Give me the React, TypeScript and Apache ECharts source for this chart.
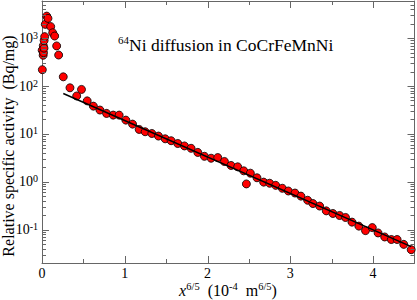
import React, { useEffect, useRef } from 'react';
import * as echarts from 'echarts';

// x^(6/5) in units of 1e-4 m^(6/5)
const depthX = [
  0.004, 0.002, 0.014, 0.018, 0.016, 0.024, 0.026, 0.032, 0.040, 0.057, 0.072,
  0.105, 0.129, 0.153, 0.177, 0.201, 0.257, 0.338, 0.419, 0.477, 0.546, 0.621,
  0.700, 0.780, 0.860, 0.932, 1.013, 1.094, 1.174, 1.246, 1.327, 1.407, 1.488,
  1.560, 1.640, 1.721, 1.801, 1.882, 1.962, 2.043, 2.123, 2.204, 2.284, 2.364,
  2.437, 2.469, 2.517, 2.597, 2.678, 2.750, 2.823, 2.903, 2.976, 3.056, 3.128,
  3.209, 3.273, 3.354, 3.434, 3.514, 3.595, 3.667, 3.745, 3.828, 3.908, 3.990,
  4.060, 4.140, 4.220, 4.290, 4.370, 4.460,
];
// relative specific activity, Bq/mg
const activity = [
  220, 560, 440, 500, 700, 620, 900, 1080, 1950, 2900, 2600,
  1750, 1300, 1110, 690, 445, 156, 92, 62, 85, 49, 38,
  31.5, 26.8, 24.7, 24.7, 19.4, 16.0, 12.4, 11.1, 10.2, 9.0, 7.9,
  7.2, 6.3, 5.6, 5.0, 4.1, 3.4, 3.1, 3.2, 2.65, 2.19, 2.05,
  1.69, 0.90, 1.51, 1.21, 0.98, 0.93, 0.84, 0.73, 0.64, 0.58, 0.50,
  0.41, 0.35, 0.31, 0.246, 0.217, 0.197, 0.179, 0.143, 0.118, 0.095, 0.110,
  0.085, 0.070, 0.062, 0.062, 0.049, 0.038,
];
// fitted line
const fitX = [0.257, 4.46];
const fitY = [70, 0.044];

const xTicks = [0, 1, 2, 3, 4];
const xMinorTicks = [0.5, 1.5, 2.5, 3.5];
const decades = [-2, -1, 0, 1, 2, 3];

const X_MIN = 0;
const X_MAX = 4.5;
const Y_MIN = 0.02;
const Y_MAX = 6000;

const FONT = "'Liberation Serif', 'Times New Roman', serif";
const AXIS_COLOR = '#666';

export default function App() {
  const ref = useRef<HTMLDivElement>(null);
  useEffect(() => {
    const chart = echarts.init(ref.current!, null, { renderer: 'svg' });
    const supRich = {
      sup: { fontSize: 10, lineHeight: 10, verticalAlign: 'top', fontFamily: FONT, color: '#000' },
    };
    const supFill = (size: number, lh: number) => ({
      sup: { fontSize: size, lineHeight: lh, verticalAlign: 'top', fontFamily: FONT, fill: '#000' },
      i: { fontSize: 16, lineHeight: 18, fontFamily: FONT, fontStyle: 'italic', fill: '#000' },
    });
    const MAJ = 7;
    const MIN = 4;
    const option: any = {
      animation: false,
      grid: { left: 42, right: 2.5, top: 1, bottom: 37 },
      xAxis: [
        {
          type: 'value', min: X_MIN, max: X_MAX, interval: 1,
          axisLine: { show: true, lineStyle: { color: AXIS_COLOR, width: 1 } },
          axisTick: { show: false },
          splitLine: { show: false },
          axisLabel: {
            margin: 3, fontSize: 14, fontFamily: FONT, color: '#000', showMaxLabel: false,
            formatter: (v: number) => (xTicks.includes(v) ? String(v) : ''),
          },
        },
        {
          type: 'value', position: 'top', min: X_MIN, max: X_MAX, interval: 1,
          axisLine: { show: true, onZero: false, lineStyle: { color: AXIS_COLOR, width: 1 } },
          axisTick: { show: false }, axisLabel: { show: false }, splitLine: { show: false },
        },
      ],
      yAxis: [
        {
          type: 'log', logBase: 10, min: Y_MIN, max: Y_MAX,
          axisLine: { show: true, lineStyle: { color: AXIS_COLOR, width: 1 } },
          axisTick: { show: false },
          splitLine: { show: false },
          minorTick: { show: false },
          axisLabel: {
            margin: 4, fontSize: 14, lineHeight: 16, fontFamily: FONT, color: '#000',
            showMinLabel: false, showMaxLabel: false,
            formatter: (v: number) => {
              const l = Math.log10(v);
              const e = Math.round(l);
              if (Math.abs(l - e) > 1e-6) return '';
              return '10{sup|' + e + '}';
            },
            rich: supRich,
          },
        },
        {
          type: 'log', logBase: 10, min: Y_MIN, max: Y_MAX, position: 'right',
          axisLine: { show: true, onZero: false, lineStyle: { color: AXIS_COLOR, width: 1 } },
          axisTick: { show: false }, axisLabel: { show: false }, splitLine: { show: false },
        },
      ],
      graphic: [
        {
          type: 'text', x: 8, y: 146, rotation: Math.PI / 2,
          style: {
            text: 'Relative specific activity  (Bq/mg)', fontSize: 16, fontFamily: FONT,
            fill: '#000', align: 'center', verticalAlign: 'middle',
          },
        },
        {
          type: 'text', x: 228, y: 290,
          style: {
            text: '{i|x}{sup|6/5}  (10{sup|-4}  m{sup|6/5})', fontSize: 16, lineHeight: 18,
            fontFamily: FONT, fill: '#000', align: 'center', verticalAlign: 'middle',
            rich: supFill(10.5, 10),
          },
        },
        {
          type: 'text', x: 118, y: 44.5,
          style: {
            text: '{sup|64}Ni diffusion in CoCrFeMnNi', fontSize: 17.5, lineHeight: 20,
            fontFamily: FONT, fill: '#000', align: 'left', verticalAlign: 'middle',
            rich: supFill(11, 11),
          },
        },
      ],
      series: [
        {
          type: 'custom',
          silent: true,
          z: 5,
          data: [[1, 1]],
          renderItem: (_params: any, api: any) => {
            const children: any[] = [];
            const seg = (x1: number, y1: number, x2: number, y2: number) =>
              children.push({
                type: 'line',
                shape: { x1, y1, x2, y2 },
                style: { stroke: AXIS_COLOR, lineWidth: 1 },
              });
            const left = api.coord([X_MIN, 1])[0];
            const right = api.coord([X_MAX, 1])[0];
            const top = api.coord([1, Y_MAX])[1];
            const bottom = api.coord([1, Y_MIN])[1];
            xTicks.forEach((x) => {
              const px = Math.round(api.coord([x, 1])[0]) + 0.5;
              seg(px, bottom, px, bottom - MAJ);
              seg(px, top, px, top + MAJ);
            });
            xMinorTicks.forEach((x) => {
              const px = Math.round(api.coord([x, 1])[0]) + 0.5;
              seg(px, bottom, px, bottom - MIN);
              seg(px, top, px, top + MIN);
            });
            decades.forEach((d) => {
              for (let m = 1; m <= 9; m++) {
                const v = m * Math.pow(10, d);
                if (v < Y_MIN || v > Y_MAX) continue;
                const py = Math.round(api.coord([1, v])[1]) + 0.5;
                const len = m === 1 ? MAJ : MIN;
                seg(left, py, left + len, py);
                seg(right, py, right - len, py);
              }
            });
            return { type: 'group', children };
          },
        },
        {
          type: 'scatter',
          z: 2,
          symbol: 'circle',
          symbolSize: 8,
          itemStyle: { color: '#ff0000', borderColor: '#000', borderWidth: 0.8, opacity: 1 },
          data: depthX.map((x, i) => [x, activity[i]]),
        },
        {
          type: 'line',
          z: 3,
          showSymbol: false,
          symbol: 'none',
          lineStyle: { color: '#000', width: 1.5 },
          data: fitX.map((x, i) => [x, fitY[i]]),
        },
      ],
    };
    chart.setOption(option);
    return () => chart.dispose();
  }, []);
  return (
    <div
      ref={ref}
      style={{ position: 'absolute', left: 0, top: 0, width: 417, height: 300, background: '#fff' }}
    />
  );
}
